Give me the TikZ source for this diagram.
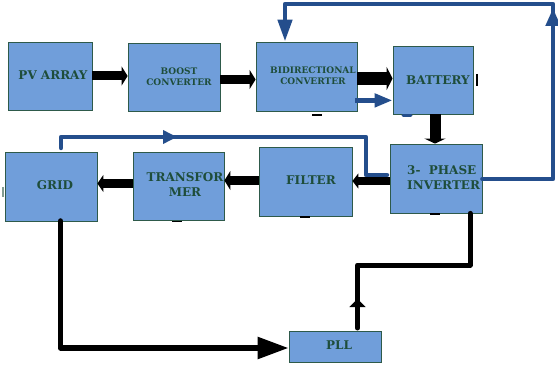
\documentclass[tikz,border=0pt]{standalone}
\usepackage{fontspec}
\setmainfont{DejaVu Serif}
\usetikzlibrary{arrows.meta,calc}
\definecolor{boxfill}{RGB}{112,158,218}
\definecolor{boxline}{RGB}{46,90,74}
\definecolor{txtgreen}{RGB}{30,77,58}
\definecolor{lineblue}{RGB}{36,78,140}
\tikzset{
  blockbox/.style={draw=boxline,fill=boxfill,line width=0.8pt,inner sep=0pt},
  bigtxt/.style={text=txtgreen,font=\bfseries\fontsize{12}{15}\selectfont,align=center,inner sep=0pt},
  smalltxt/.style={text=txtgreen,font=\bfseries\fontsize{9}{11}\selectfont,align=center,inner sep=0pt},
  blk/.style={draw=black,line width=9pt,-{Triangle[length=6pt,width=19pt]}},
  blkline/.style={draw=black,line width=5.5pt,line join=round,line cap=round},
  bline/.style={draw=lineblue,line width=4.5pt,line join=round,line cap=round},
  tickmark/.style={line width=1.6pt}
}
\begin{document}
\begin{tikzpicture}[x=1pt,y=-1pt]
\useasboundingbox (0,0) rectangle (558,369);
% boxes
\node[blockbox,minimum width=84pt,minimum height=68pt] (pv) at (50,76) {};
\node[blockbox,minimum width=92pt,minimum height=68pt] (boost) at (174,77) {};
\node[blockbox,minimum width=101pt,minimum height=69pt] (bidir) at (306.5,76.5) {};
\node[blockbox,minimum width=80pt,minimum height=68pt] (batt) at (433,80) {};
\node[blockbox,minimum width=92pt,minimum height=69pt] (grid) at (51,186.5) {};
\node[blockbox,minimum width=91pt,minimum height=68pt] (trans) at (178.5,186) {};
\node[blockbox,minimum width=93pt,minimum height=69pt] (filter) at (305.5,181.5) {};
\node[blockbox,minimum width=92pt,minimum height=69pt] (inv) at (436,178.5) {};
\node[blockbox,minimum width=92pt,minimum height=31pt] (pll) at (335,346.5) {};
% texts
\node[bigtxt] (pvt) at (53,75.5) {PV ARRAY};
\node[smalltxt] (boostt) at (179,77) {BOOST\\CONVERTER};
\node[smalltxt] (bidirt) at (313,76) {BIDIRECTIONAL\\CONVERTER};
\node[bigtxt] (battt) at (438,80) {BATTERY};
\node[bigtxt] (gridt) at (55,185.5) {GRID};
\node[bigtxt] (transt) at (185,185) {TRANSFOR\\MER};
\node[bigtxt] (filtert) at (311,180.5) {FILTER};
\node[bigtxt,align=left,anchor=west] (invt) at (407,178) {3-\ \ PHASE\\INVERTER};
\node[bigtxt] (pllt) at (339,345) {PLL};
% anchor coordinates
\coordinate (b1) at ($(boost.east)+(0,2.5)$);
\coordinate (d1) at ($(bidir.east)+(0,2)$);
\coordinate (t1) at ($(batt.south)+(2,0)$);
\coordinate (i1) at ($(inv.west)+(0,2.5)$);
\coordinate (f1) at ($(filter.west)+(0,-1)$);
\coordinate (tr1) at ($(trans.west)+(0,-2.5)$);
\coordinate (d2) at ($(bidir.south east)+(-2,-11)$);
% black thick arrows
\draw[blk] (pv.east) -- (pv.east -| boost.west);
\draw[blk] (b1) -- (b1 -| bidir.west);
\draw[blk,line width=13pt,-{Triangle[length=6pt,width=23pt]}] (d1) -- (d1 -| batt.west);
\draw[blk,line width=11pt,-{Triangle[length=5pt,width=21pt]}] (t1) -- (t1 |- inv.north);
\draw[blk,line width=8pt,-{Triangle[length=6pt,width=15pt]}] (i1) -- (i1 -| filter.east);
\draw[blk] (f1) -- (f1 -| trans.east);
\draw[blk,-{Triangle[length=6pt,width=17pt]}] (tr1) -- (tr1 -| grid.east);
% blue small arrow bidir -> battery
\draw[bline,line cap=butt,-{Triangle[length=18pt,width=13pt]}] (d2) -- (d2 -| batt.west);
% blue top loop inverter -> bidir
\coordinate (r0) at ($(inv.east)+(0,0.5)$);
\coordinate (r1) at (553,179);
\coordinate (r2) at (553,8);
\coordinate (r3) at (553,25);
\coordinate (r4) at (553,4);
\coordinate (r5) at (285,4);
\coordinate (r6) at (285,20);
\coordinate (r7) at (285,19);
\draw[bline] (r0) -- (r1) -- (r3);
\draw[bline,line cap=butt,-{Triangle[length=18pt,width=14pt]}] (r3) -- (r2);
\draw[bline] (r3) -- (r4) -- (r5) -- (r6);
\draw[bline,line cap=butt,-{Triangle[length=22pt,width=14pt]}] (r7) -- (r7 |- bidir.north);
% blue grid -> inverter
\coordinate (g1) at (61,148);
\coordinate (g2) at (61,137);
\coordinate (g3) at (366,137);
\coordinate (g4) at (366,175);
\coordinate (g5) at (387,175);
\coordinate (ga) at (150,137);
\coordinate (gb) at (177,137);
\draw[bline] (g1) -- (g2) -- (g3) -- (g4) -- (g5);
\draw[bline,line cap=butt,-{Triangle[length=14pt,width=13pt]}] (ga) -- (gb);
% grid -> PLL
\coordinate (p1) at (60.5,221);
\coordinate (p2) at (60.5,348);
\coordinate (p3) at (262,348);
\coordinate (p4) at (250,348);
\draw[blkline] (p1) -- (p2) -- (p3);
\draw[blkline,line cap=butt,-{Triangle[length=31pt,width=21pt]}] (p4) -- (p4 -| pll.west);
% PLL -> inverter
\coordinate (q1) at (357.5,328);
\coordinate (q2) at (357.5,265);
\coordinate (q3) at (470,265);
\coordinate (qa) at (357.5,312);
\coordinate (qb) at (357.5,299);
\draw[blkline,line width=5pt] (q1) -- (q2) -- (q3) -- (q3 |- inv.south);
\draw[blkline,line width=5pt,line cap=butt,-{Triangle[length=8pt,width=16pt]}] (qa) -- (qb);
% small marks
\draw[tickmark] (312,115) -- (322,115);
\draw[tickmark] (477,74) -- (477,86);
\draw[lineblue,line width=3pt,line cap=round] (403,116) -- (411,116);
\draw[tickmark] (172,221.5) -- (182,221.5);
\draw[tickmark] (300,217) -- (310,217);
\draw[tickmark] (430,214) -- (440,214);
\draw[boxline!60,line width=2pt] (3,187) -- (3,197);
\end{tikzpicture}
\end{document}
